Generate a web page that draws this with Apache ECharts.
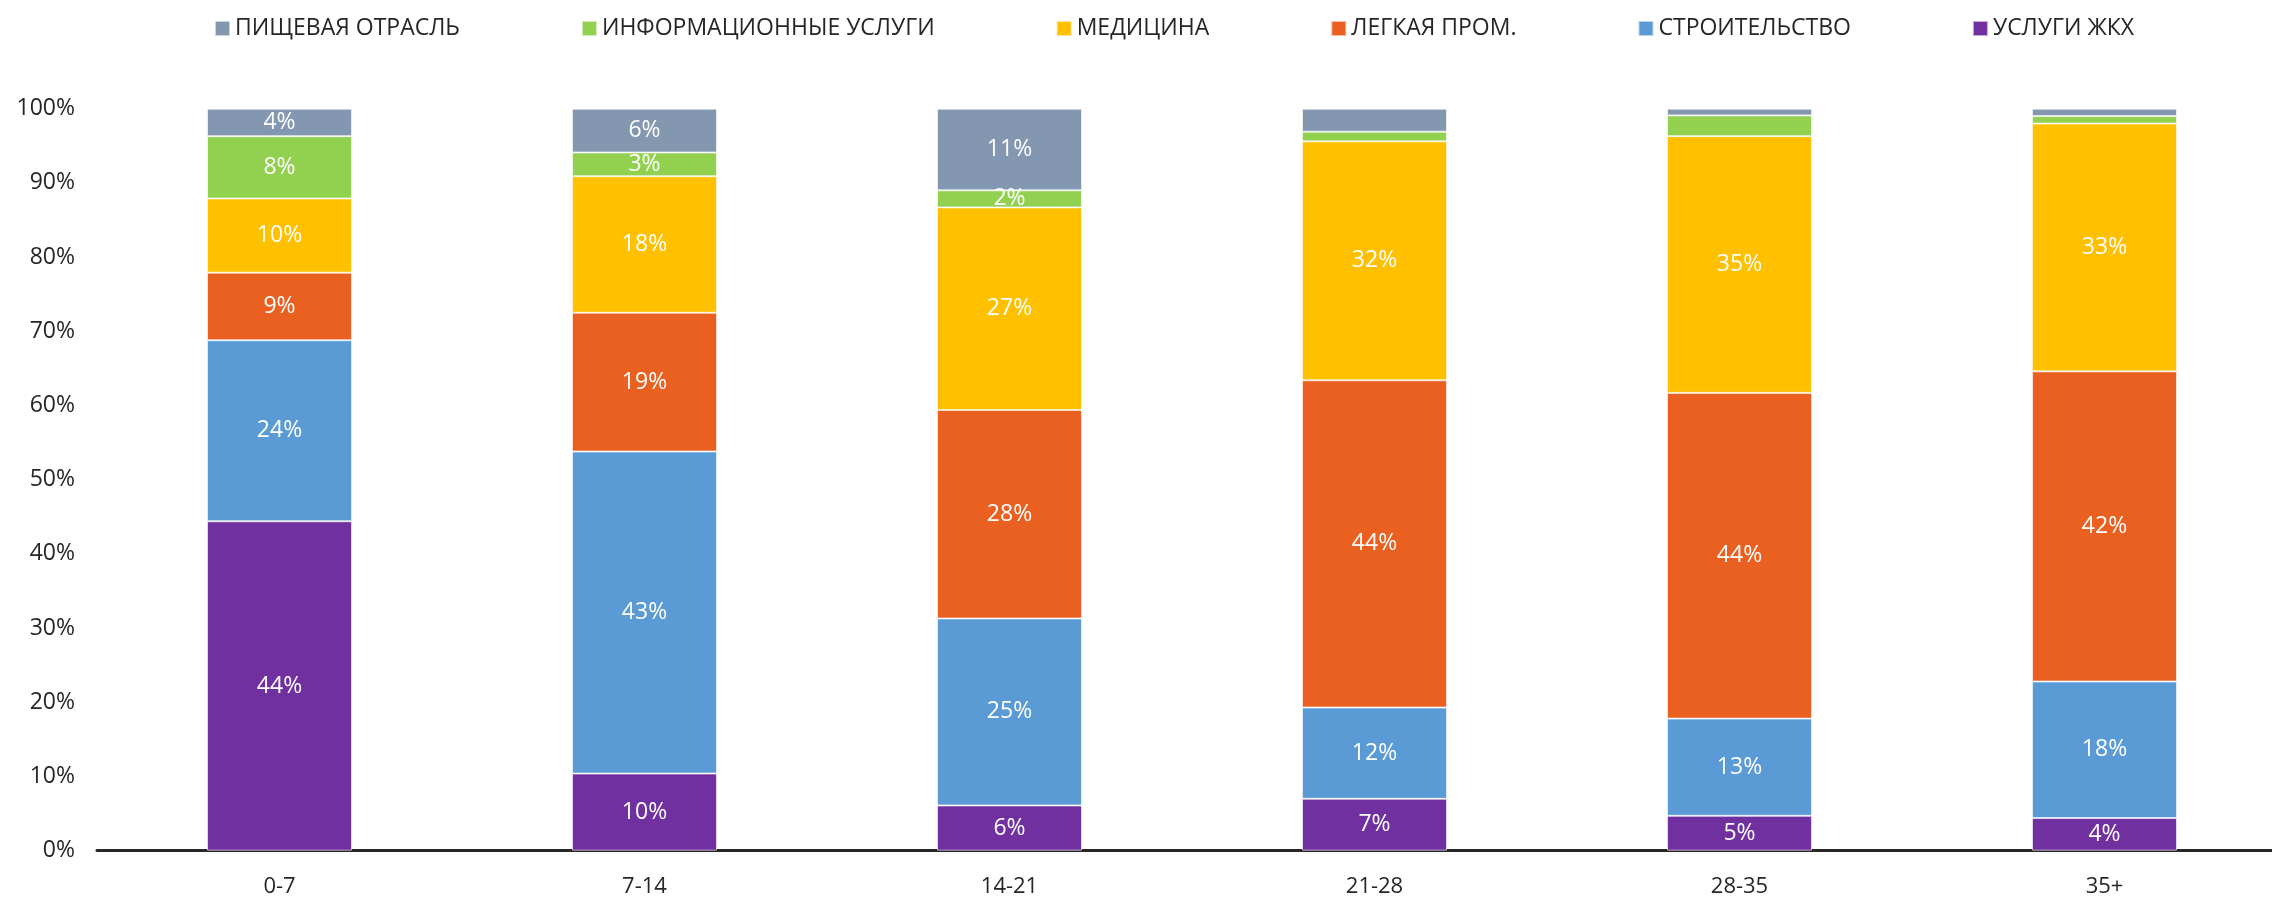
<!DOCTYPE html>
<html>
<head>
<meta charset="utf-8">
<script src="https://cdn.jsdelivr.net/npm/echarts@6/dist/echarts.min.js"></script>
<style>
  html, body { margin: 0; padding: 0; background: #fff; }
  #chart { width: 2272px; height: 898px; }
</style>
</head>
<body>
<div id="chart"></div>
<script>
// categories (days)
const categories = ['0-7', '7-14', '14-21', '21-28', '28-35', '35+']

// series values, % of total
const uslugiZhkh = [44.4, 10.4, 6.1, 7.0, 4.7, 4.4]
const stroitelstvo = [24.4, 43.4, 25.2, 12.3, 13.1, 18.4]
const legkayaProm = [9.1, 18.7, 28.1, 44.1, 43.9, 41.8]
const medicina = [10.0, 18.4, 27.3, 32.2, 34.6, 33.4]
const infoUslugi = [8.4, 3.2, 2.3, 1.3, 2.8, 1.0]
const pishchevaya = [3.7, 5.9, 11.0, 3.1, 0.9, 1.0]

const yTicks = [0, 10, 20, 30, 40, 50, 60, 70, 80, 90, 100]

// no labels on the thin top segments of the last three bars
const unlabeledTop = ['21-28', '28-35', '35+']

const font = '"Open Sans", "Noto Sans", sans-serif'

// ------------------------------------------------------------------
// series
// ------------------------------------------------------------------
const seriesDefs = [
  { name: 'УСЛУГИ ЖКХ', data: uslugiZhkh, color: '#7030A0', top: false },
  { name: 'СТРОИТЕЛЬСТВО', data: stroitelstvo, color: '#5B9BD5', top: false },
  { name: 'ЛЕГКАЯ ПРОМ.', data: legkayaProm, color: '#E96021', top: false },
  { name: 'МЕДИЦИНА', data: medicina, color: '#FFC000', top: false },
  { name: 'ИНФОРМАЦИОННЫЕ УСЛУГИ', data: infoUslugi, color: '#92D050', top: true },
  { name: 'ПИЩЕВАЯ ОТРАСЛЬ', data: pishchevaya, color: '#8497B0', top: true },
]

const series = seriesDefs.map((s) => ({
  name: s.name,
  type: 'bar',
  stack: 'total',
  barWidth: 145,
  data: s.data,
  itemStyle: { color: s.color, borderColor: 'rgba(255,255,255,0.6)', borderWidth: 1 },
  label: {
    show: true,
    position: 'inside',
    color: '#fff',
    fontFamily: font,
    fontSize: 23,
    formatter(p) {
      if (s.top && unlabeledTop.includes(p.name)) return ''
      return Math.round(p.value) + '%'
    },
  },
}))

const chart = echarts.init(document.getElementById('chart'))
chart.setOption({
  animation: false,
  textStyle: { fontFamily: font },
  legend: {
    data: seriesDefs.map((s) => s.name).reverse(),
    top: 12,
    left: 209,
    itemWidth: 15,
    itemHeight: 15,
    itemGap: 121,
    icon: 'rect',
    textStyle: { color: '#262626', fontSize: 23, fontFamily: font },
  },
  grid: {
    left: 97,
    width: 2190,
    top: 108.7,
    height: 742,
    containLabel: false,
    outerBoundsMode: 'none',
  },
  xAxis: {
    type: 'category',
    data: categories,
    axisLine: { lineStyle: { color: '#262626', width: 3 } },
    axisTick: { show: false },
    axisLabel: { color: '#262626', fontSize: 22, margin: 25, fontFamily: font },
  },
  yAxis: {
    type: 'value',
    min: yTicks[0],
    max: yTicks[yTicks.length - 1],
    interval: 10,
    axisLine: { show: false },
    axisTick: { show: false },
    splitLine: { show: false },
    axisLabel: { color: '#262626', fontSize: 23, margin: 22, fontFamily: font, formatter: '{value}%' },
  },
  series,
})
</script>
</body>
</html>
